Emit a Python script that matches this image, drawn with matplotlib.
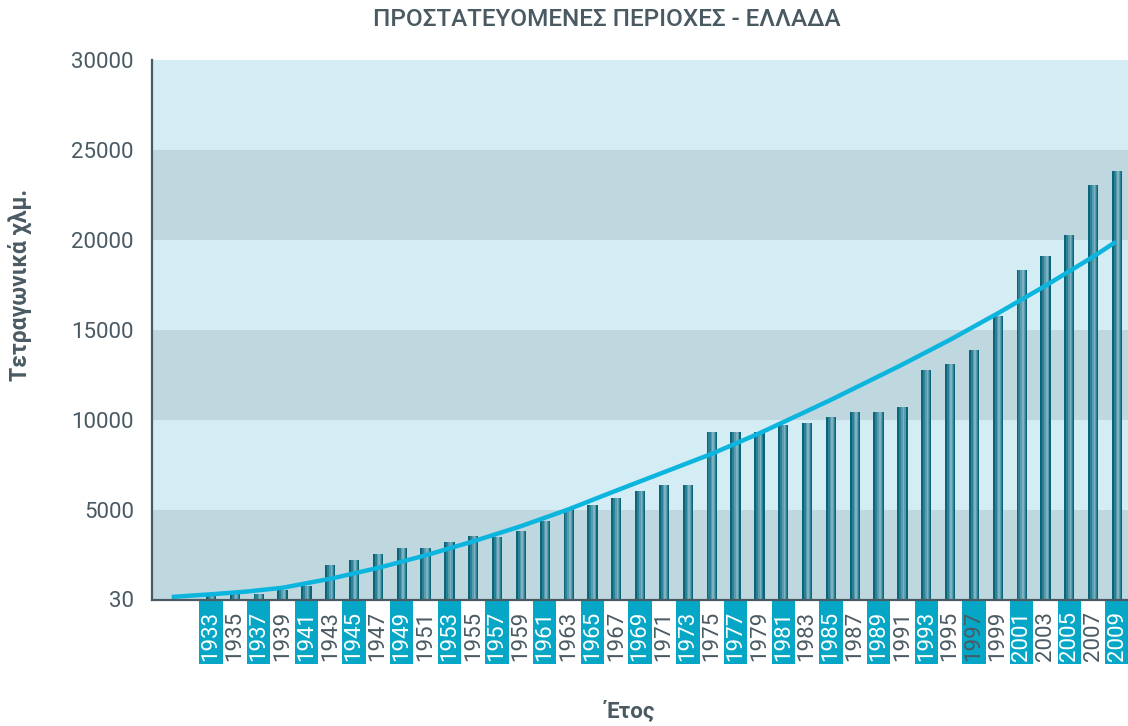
import numpy as np
import matplotlib
matplotlib.use('Agg')
from matplotlib import pyplot as plt
from matplotlib.patches import Rectangle
import matplotlib.transforms as mtransforms

plt.rcParams['font.family'] = ['Roboto', 'DejaVu Sans']

# data
years = [1933, 1935, 1937, 1939, 1941, 1943, 1945, 1947, 1949, 1951,
         1953, 1955, 1957, 1959, 1961, 1963, 1965, 1967, 1969, 1971,
         1973, 1975, 1977, 1979, 1981, 1983, 1985, 1987, 1989, 1991,
         1993, 1995, 1997, 1999, 2001, 2003, 2005, 2007, 2009]
area = [333, 333, 320, 556, 778, 1944, 2222, 2556, 2889, 2889,
        3222, 3556, 3500, 3833, 4389, 5056, 5278, 5667, 6056, 6389,
        6389, 9333, 9333, 9333, 9722, 9833, 10167, 10444, 10444, 10722,
        12778, 13111, 13889, 15778, 18333, 19111, 20278, 23056, 23833]

trend_years = [1929.7, 1933, 1936, 1939, 1943, 1947, 1951, 1955, 1959, 1963,
               1967, 1971, 1975, 1979, 1981, 1985, 1990.8, 1995, 1999, 2003,
               2007, 2008.9]
trend_vals = [170, 317, 470, 680, 1180, 1780, 2480, 3260, 4100, 5040,
              6080, 7100, 8120, 9261, 9880, 11120, 13017, 14460, 15928, 17460,
              19072, 19900]

band_edges = [0, 5000, 10000, 15000, 20000, 25000, 30000]
ytick_vals = [30, 5000, 10000, 15000, 20000, 25000, 30000]

grey = '#4a5a63'
cyan_box = '#06a7c6'
band_dark = '#bfd7df'
band_light = '#d4ecf3'

fig = plt.figure(figsize=(11.28, 7.26), dpi=100)
ax = fig.add_axes([152 / 1128, 126 / 726, 976 / 1128, 540 / 726])

for i in range(len(band_edges) - 1):
    ax.axhspan(band_edges[i], band_edges[i + 1],
               color=band_dark if i % 2 == 0 else band_light, lw=0, zorder=0)

# cylinder-ish bars: a few stacked widths
yrs = np.array(years, dtype=float)
ax.bar(yrs, area, width=0.86, color='#0a6579', zorder=2)
ax.bar(yrs + 0.03, area, width=0.6, color='#2c8196', zorder=2)
ax.bar(yrs + 0.08, area, width=0.36, color='#5a9bad', zorder=2)
ax.bar(yrs + 0.1, area, width=0.14, color='#7db3c1', zorder=2)

ax.plot(trend_years, trend_vals, color='#0cb5dd', lw=3.2, zorder=3,
        solid_capstyle='butt', solid_joinstyle='round')

ax.set_xlim(1928.05, 2009.92)
ax.set_ylim(0, 30000)

ax.set_yticks(ytick_vals)
ax.set_yticklabels([str(v) for v in ytick_vals])
ax.tick_params(axis='y', length=0, pad=13, labelsize=16, labelcolor=grey)

ax.set_xticks(years)
ax.set_xticklabels([str(y) for y in years], rotation=90)
ax.tick_params(axis='x', length=0, pad=8, labelsize=16)

trans = mtransforms.blended_transform_factory(ax.transData, ax.transAxes)
for k, (y, lab) in enumerate(zip(years, ax.get_xticklabels())):
    if k % 2 == 0:
        ax.add_patch(Rectangle((y - 0.98, -0.1185), 1.96, 0.1165,
                               transform=trans, color=cyan_box,
                               clip_on=False, zorder=1, lw=0))
        lab.set_color('white' if y != 1997 else grey)
    else:
        lab.set_color(grey)

for s in ['top', 'right']:
    ax.spines[s].set_visible(False)
for s in ['left', 'bottom']:
    ax.spines[s].set_color(grey)
    ax.spines[s].set_linewidth(1.6)
    ax.spines[s].set_zorder(4)

fig.text(607 / 1128, 1 - 20 / 726, 'ΠΡΟΣΤΑΤΕΥΟΜΕΝΕΣ ΠΕΡΙΟΧΕΣ - ΕΛΛΑΔΑ',
         ha='center', va='center', fontsize=17.5, fontweight='medium', color=grey)
fig.text(20 / 1128, 1 - 285 / 726, 'Τετραγωνικά χλμ.', rotation=90,
         ha='center', va='center', fontsize=16.5, fontweight='bold', color=grey)
fig.text(630 / 1128, 1 - 712 / 726, 'Έτος',
         ha='center', va='center', fontsize=16, fontweight='bold', color=grey)

fig.savefig('out.png', dpi=100)
